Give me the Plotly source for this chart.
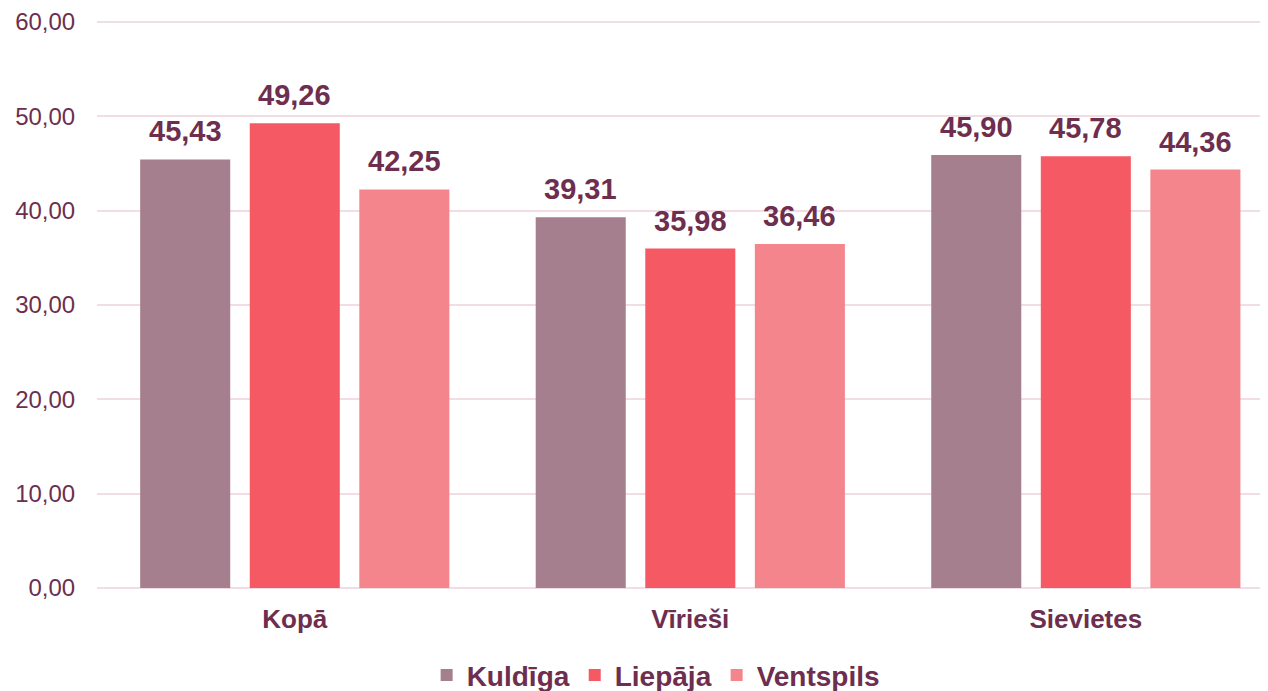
import plotly.graph_objects as go

categories = ["Kopā", "Vīrieši", "Sievietes"]
kuldiga = [45.43, 39.31, 45.90]
liepaja = [49.26, 35.98, 45.78]
ventspils = [42.25, 36.46, 44.36]

y_ticks = [0, 10, 20, 30, 40, 50, 60]
y_tick_labels = ["0,00", "10,00", "20,00", "30,00", "40,00", "50,00", "60,00"]

text_color = "#6E2E4E"
grid_color = "#F2DDE4"

series = [
    ("Kuldīga", kuldiga, "#A67F8F"),
    ("Liepāja", liepaja, "#F45964"),
    ("Ventspils", ventspils, "#F5858D"),
]

bargap = 0.169
slot = (1 - bargap) / len(series)


def fmt(v):
    return f"{v:.2f}".replace(".", ",")


fig = go.Figure()
for k, (name, values, color) in enumerate(series):
    fig.add_trace(go.Bar(
        x=categories,
        y=values,
        name=name,
        marker=dict(color=color, line=dict(width=0)),
    ))
    # value labels, lifted a bit above the bar tops like the original
    for i, v in enumerate(values):
        fig.add_annotation(
            x=i + (k - 1) * slot, y=v,
            text=fmt(v),
            showarrow=False,
            yanchor="bottom",
            yshift=10,
            font=dict(family="Liberation Sans, Arial, sans-serif", size=29,
                      color=text_color, weight="bold"),
        )

# page body has an 8px margin, so the figure is 8px smaller than the window
fig.update_layout(
    width=1260,
    height=683,
    paper_bgcolor="white",
    plot_bgcolor="white",
    barmode="group",
    bargap=bargap,
    bargroupgap=0.178,
    margin=dict(l=89, r=3, t=9, b=103, autoexpand=False),
    font=dict(family="Liberation Sans, Arial, sans-serif", color=text_color),
    showlegend=True,
    legend=dict(
        orientation="h",
        xref="container", yref="container",
        x=0.514, y=0.023,
        xanchor="center", yanchor="middle",
        font=dict(size=28, color=text_color, weight="bold"),
        itemwidth=30,
    ),
    xaxis=dict(
        range=[-0.5, 2.453],
        automargin=False,
        showgrid=False,
        showline=False,
        ticks="outside",
        ticklen=8,
        tickcolor="rgba(0,0,0,0)",
        tickfont=dict(size=26, color=text_color, weight="bold"),
    ),
    yaxis=dict(
        range=[0, 60.53],
        automargin=False,
        tickvals=y_ticks,
        ticktext=y_tick_labels,
        showgrid=True,
        gridcolor=grid_color,
        gridwidth=2,
        zeroline=True,
        zerolinecolor=grid_color,
        zerolinewidth=2,
        showline=False,
        ticks="outside",
        ticklen=16,
        tickcolor="rgba(0,0,0,0)",
        tickfont=dict(size=24, color=text_color),
    ),
)

fig.write_html("out.html")
